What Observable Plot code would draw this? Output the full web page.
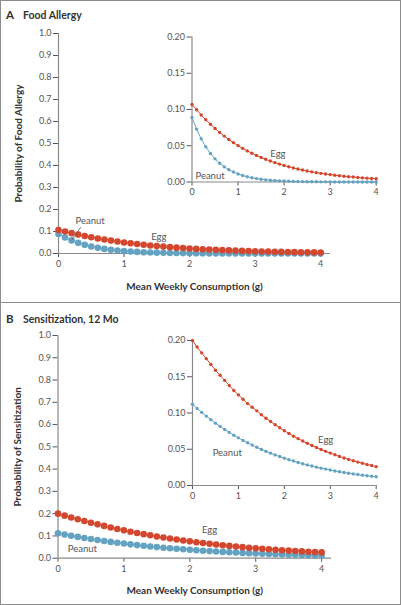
<!DOCTYPE html>
<html><head><meta charset="utf-8">
<script src="https://cdn.jsdelivr.net/npm/d3@7"></script>
<script src="https://cdn.jsdelivr.net/npm/@observablehq/plot@0.6"></script>
<style>
body{margin:0;background:#fff;font-family:Lato,"Open Sans",sans-serif;}
#fig{position:relative;width:401px;height:605px;overflow:hidden;background:#fff;box-shadow:inset 0 0 0 1px #8c8c8c;}
.sep{position:absolute;left:0;top:302px;width:401px;height:1px;background:#8c8c8c;}
.hdr{position:absolute;left:6px;font-size:10.5px;line-height:13px;font-weight:bold;color:#333;white-space:nowrap;}
.hdr span{display:inline-block;width:17px;font-size:11.5px;}
.abs{position:absolute;}
g[aria-label="x-axis label"] text, g[aria-label="y-axis label"] text{font-weight:bold;font-size:10px;fill:#333;}
</style></head>
<body>
<div id="fig">
  <div class="hdr" style="top:8px"><span>A</span>Food Allergy</div>
  <div class="sep"></div>
  <div class="hdr" style="top:312px"><span>B</span>Sensitization, 12 Mo</div>
</div>
<script>
// ---- data ----
const dose = [0,0.1,0.2,0.3,0.4,0.5,0.6,0.7,0.8,0.9,1.0,1.1,1.2,1.3,1.4,1.5,1.6,1.7,1.8,1.9,2.0,2.1,2.2,2.3,2.4,2.5,2.6,2.7,2.8,2.9,3.0,3.1,3.2,3.3,3.4,3.5,3.6,3.7,3.8,3.9,4.0];
const allergyEgg = [0.107,0.0996,0.0924,0.0858,0.0796,0.0738,0.0684,0.0633,0.0586,0.0543,0.0502,0.0464,0.0429,0.0397,0.0367,0.0339,0.0313,0.0289,0.0267,0.0247,0.0228,0.0210,0.0194,0.0179,0.0165,0.0152,0.0140,0.0129,0.0119,0.0110,0.0102,0.0094,0.0086,0.0080,0.0073,0.0068,0.0062,0.0057,0.0053,0.0049,0.0045];
const allergyPeanut = [0.089,0.073,0.0595,0.0485,0.0394,0.0319,0.0259,0.0209,0.0169,0.0137,0.0110,0.0089,0.0072,0.0058,0.0047,0.0038,0.0030,0.0024,0.0020,0.0016,0.0013,0.0010,0.0008,0.0007,0.0005,0.0004,0.0004,0.0003,0.0002,0.0002,0.0002,0.0001,0.0001,0.0001,0.0001,0.0001,0.0001,0.0001,0.0001,0.0001,0.0001];
const sensEgg = [0.200,0.191,0.183,0.175,0.167,0.159,0.152,0.145,0.138,0.131,0.125,0.119,0.113,0.108,0.103,0.0976,0.0928,0.0882,0.0838,0.0796,0.0756,0.0718,0.0681,0.0646,0.0613,0.0582,0.0552,0.0524,0.0497,0.0471,0.0447,0.0424,0.0401,0.0380,0.0360,0.0341,0.0323,0.0306,0.0290,0.0275,0.0260];
const sensPeanut = [0.112,0.1063,0.1009,0.0957,0.0908,0.0860,0.0816,0.0773,0.0733,0.0694,0.0657,0.0622,0.0589,0.0557,0.0527,0.0498,0.0471,0.0446,0.0422,0.0399,0.0377,0.0356,0.0337,0.0318,0.0301,0.0284,0.0268,0.0253,0.0239,0.0226,0.0213,0.0201,0.0190,0.0180,0.0170,0.0160,0.0151,0.0143,0.0135,0.0127,0.0120];
const xTicks = [0,1,2,3,4];
const mainYTicks = [0,0.1,0.2,0.3,0.4,0.5,0.6,0.7,0.8,0.9,1.0];
const insetYTicks = [0,0.05,0.10,0.15,0.20];
const xLabel = "Mean Weekly Consumption (g)";
const yLabelA = "Probability of Food Allergy";
const yLabelB = "Probability of Sensitization";
const seriesNames = ["Egg","Peanut"];

const RED = "#d4472f", BLUE = "#64a2c2", AXIS = "#8a8a8a";
const rows = vals => dose.map((x,i)=>({x, y: vals[i]}));
const baseStyle = {fontFamily:"Lato, 'Open Sans', sans-serif", fontSize:"9px", color:"#555", background:"transparent", overflow:"visible"};
const fig = document.getElementById("fig");
function place(svg, left, top){ svg.classList.add("abs"); svg.style.left=left+"px"; svg.style.top=top+"px"; fig.appendChild(svg); }
function lab(data, i, text, dx, dy, anchor="middle"){
  return Plot.text([data[i]], {x:"x", y:"y", text:()=>text, dx, dy, textAnchor:anchor, fill:"#555", fontSize:9.5});
}

function mainPlot(egg, peanut, yLabel, o){
  const e = rows(egg), p = rows(peanut);
  const marks = [
    Plot.ruleX([0], {stroke:AXIS, strokeWidth:1.2}),
    Plot.ruleY([0], {stroke:AXIS, strokeWidth:1.2}),
    Plot.line(p, {x:"x", y:"y", stroke:BLUE, strokeWidth:1}),
    Plot.dot(p, {x:"x", y:"y", r:3.3, fill:BLUE}),
    Plot.line(e, {x:"x", y:"y", stroke:RED, strokeWidth:1}),
    Plot.dot(e, {x:"x", y:"y", r:3.3, fill:RED}),
    lab(e, o.egg[0], seriesNames[0], o.egg[1], o.egg[2]),
    lab(p, o.pea[0], seriesNames[1], o.pea[1], o.pea[2])
  ];
  if (o.leader) marks.push(Plot.link([p[o.leader]], {x1:"x", y1:"y", x2:d=>d.x+0.14, y2:d=>d.y+0.06, stroke:"#555", strokeWidth:0.8}));
  return Plot.plot({
    width:401, height:o.h, marginLeft:o.ml, marginRight:o.mr, marginTop:o.mt, marginBottom:o.mb,
    style: baseStyle,
    x:{domain:[0,4.15], ticks:xTicks, tickFormat:"d", tickSize:4, tickPadding:3, label:xLabel, labelAnchor:"center", labelOffset:36, labelArrow:"none"},
    y:{domain:[0,1], ticks:mainYTicks, tickFormat:".1f", tickSize:5, tickPadding:2, label:yLabel, labelAnchor:"center", labelOffset:44, labelArrow:"none"},
    marks
  });
}
function insetPlot(egg, peanut, o){
  const e = rows(egg), p = rows(peanut);
  return Plot.plot({
    width:o.w, height:o.h, marginLeft:o.ml, marginRight:o.mr, marginTop:o.mt, marginBottom:o.mb,
    style: baseStyle,
    x:{domain:[0,4], ticks:xTicks, tickFormat:"d", tickSize:4, tickPadding:3, label:null},
    y:{domain:[0,0.2], ticks:insetYTicks, tickFormat:".2f", tickSize:5, tickPadding:2, label:null},
    marks:[
      Plot.ruleX([0], {stroke:AXIS, strokeWidth:1.2}),
      Plot.ruleY([0], {stroke:AXIS, strokeWidth:1.2}),
      Plot.line(p, {x:"x", y:"y", stroke:BLUE, strokeWidth:1}),
      Plot.dot(p, {x:"x", y:"y", r:1.7, fill:BLUE}),
      Plot.line(e, {x:"x", y:"y", stroke:RED, strokeWidth:1}),
      Plot.dot(e, {x:"x", y:"y", r:1.7, fill:RED}),
      lab(e, o.egg[0], seriesNames[0], o.egg[1], o.egg[2]),
      lab(p, o.pea[0], seriesNames[1], o.pea[1], o.pea[2])
    ]
  });
}

place(mainPlot(allergyEgg, allergyPeanut, yLabelA, {h:303, ml:58, mr:71, mt:33, mb:50, egg:[15,2,-9], pea:[3,12,-22], leader:2}), 0, 0);
place(insetPlot(allergyEgg, allergyPeanut, {w:240, h:180, ml:41.5, mr:14.3, mt:16.5, mb:18.5, egg:[18,3,-9], pea:[5,-5,17]}), 150, 20);
place(mainPlot(sensEgg, sensPeanut, yLabelB, {h:302, ml:57.5, mr:70, mt:32, mb:47.3, egg:[23,0,-14], pea:[4,-2,11]}), 0, 303);
place(insetPlot(sensEgg, sensPeanut, {w:240, h:185, ml:42, mr:14.3, mt:20, mb:20, egg:[29,0,-11], pea:[8,-2,21]}), 150, 320);
</script>
</body></html>
